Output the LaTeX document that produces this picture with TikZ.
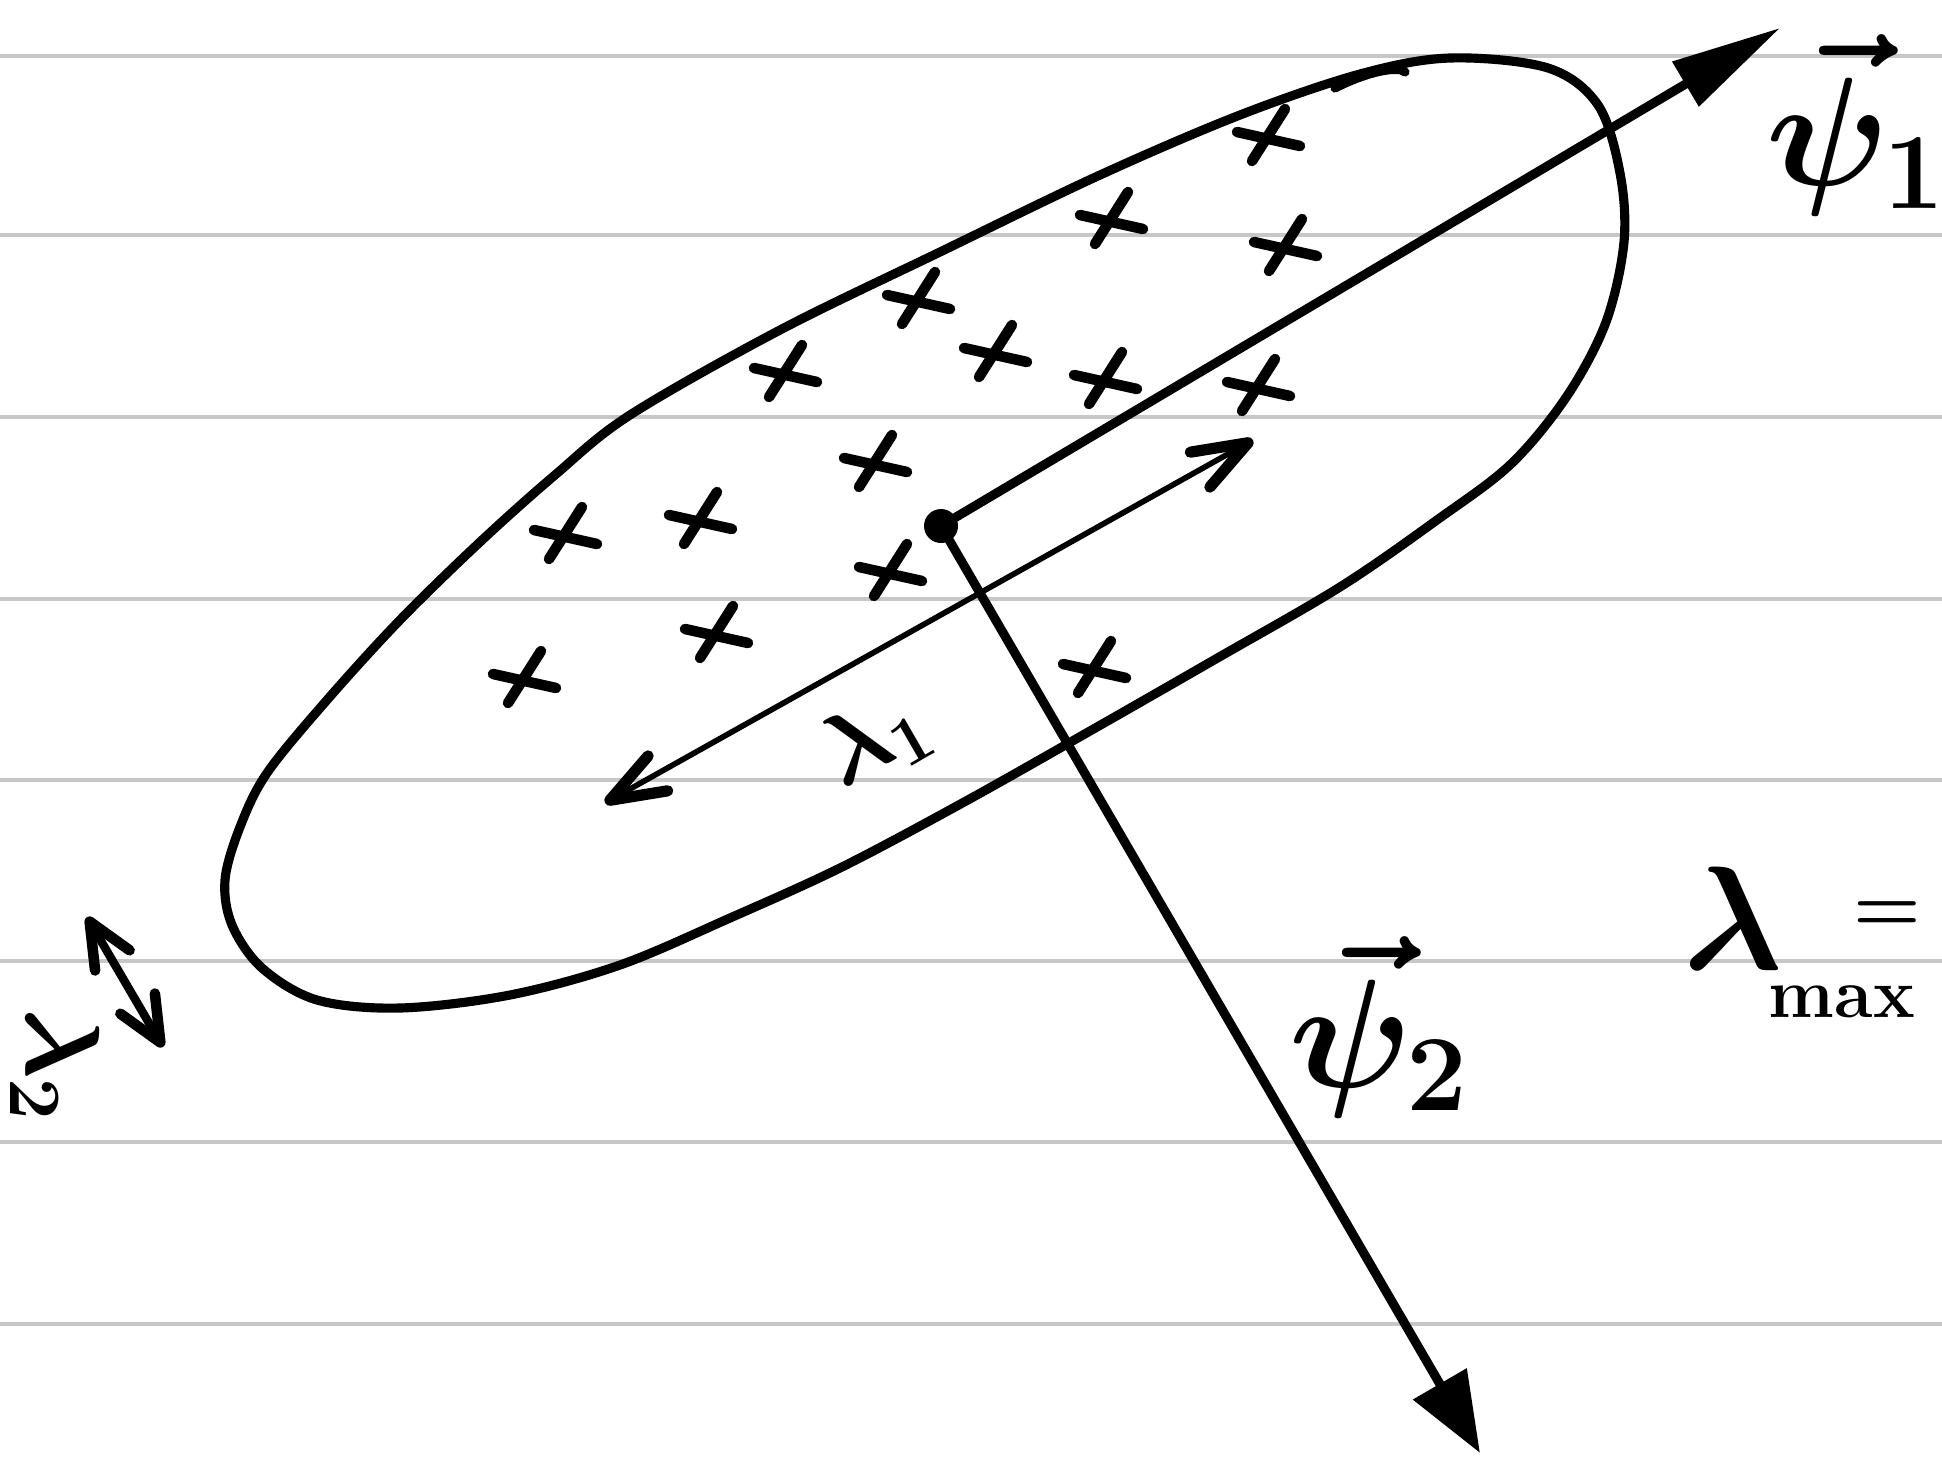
\RequirePackage{fix-cm}
\documentclass[tikz,border=0pt]{standalone}
\usetikzlibrary{arrows.meta}
\begin{document}
\begin{tikzpicture}[
  paper/.style={black!22, line width=1.3pt},
  ink/.style={black, line width=2.6pt, line cap=round, line join=round},
  axisline/.style={black, line width=2.6pt, line cap=round},
  thinink/.style={black, line width=1.6pt, line cap=round},
  crossline/.style={black, line width=3pt, line cap=round},
  xmark/.pic={\draw[crossline] (-0.33,0.05) -- (0.30,-0.09); \draw[crossline] (0.15,0.28) -- (-0.18,-0.24);},
  lbl/.style={inner sep=0pt}
]
\fill[white] (0,0) rectangle (19.42,-14.69);
\useasboundingbox (0,0) rectangle (19.42,-14.69);
% ruled paper
\foreach \y in {0.56,2.35,4.17,5.99,7.80,9.61,11.42,13.24}
  \draw[paper] (0,-\y) -- (19.42,-\y);
% hand-drawn ellipse
\draw[ink] plot[smooth cycle, tension=0.55] coordinates {
 (2.25,-8.80) (2.40,-8.27) (2.67,-7.73) (3.27,-7.00) (4.00,-6.20) (4.80,-5.42)
 (5.55,-4.75) (6.30,-4.15) (7.80,-3.30) (9.40,-2.52) (11.00,-1.75)
 (12.40,-1.15) (13.60,-0.74) (14.50,-0.58) (15.48,-0.68) (15.98,-1.05) (16.20,-1.73)
 (16.24,-2.42) (16.06,-3.22) (15.67,-3.96) (15.11,-4.64) (14.37,-5.20) (13.40,-5.87)
 (12.14,-6.60) (10.90,-7.31) (9.66,-8.01) (8.42,-8.67) (7.30,-9.18) (6.20,-9.65)
 (5.10,-9.95) (4.00,-10.08) (3.17,-10.00) (2.62,-9.68) (2.32,-9.25)};
\draw[ink] (13.35,-0.88) .. controls (13.70,-0.70) and (14.00,-0.66) .. (14.05,-0.72);
% data points
\foreach \p in {(12.70,-1.37),(11.13,-2.20),(12.87,-2.47),(9.20,-3.00),(7.87,-3.73),
  (9.97,-3.53),(11.07,-3.80),(12.60,-3.87),(8.77,-4.63),(7.02,-5.20),(5.67,-5.35),
  (8.92,-5.72),(7.18,-6.34),(5.26,-6.79),(10.96,-6.69)}
  \pic at \p {xmark};
% centre and eigenvector axes
\coordinate (c) at (9.41,-5.26);
\coordinate (p1) at (17.80,-0.28);
\coordinate (p2) at (14.80,-14.53);
\draw[axisline, -{Triangle[length=11mm,width=5mm]}] (c) -- (p1);
\draw[axisline, -{Triangle[length=8mm,width=6mm]}] (c) -- (p2);
\fill (c) circle (0.17);
% lambda_1 extent
\coordinate (l1a) at (6.05,-8.03);
\coordinate (l1b) at (12.53,-4.40);
\draw[thinink, {Straight Barb[length=5.5mm,width=4mm,line width=3.2pt,round]}-{Straight Barb[length=5.5mm,width=4mm,line width=3.2pt,round]}] (l1a) -- (l1b);
% lambda_2 extent
\coordinate (l2a) at (0.87,-9.17);
\coordinate (l2b) at (1.63,-10.47);
\draw[thinink, line width=2.4pt, {Straight Barb[length=4.5mm,width=4mm,line width=3pt,round]}-{Straight Barb[length=4.5mm,width=4mm,line width=3pt,round]}] (l2a) -- (l2b);
% labels
\node[lbl, font=\fontsize{44}{52}\selectfont\boldmath] (psi1) at (18.56,-1.25) {$\vec{\psi}_1$};
\node[lbl, font=\fontsize{44}{52}\selectfont\boldmath] (psi2) at (13.79,-10.27) {$\vec{\psi}_2$};
\node[lbl, font=\fontsize{42}{50}\selectfont\boldmath] (lam) at (17.33,-9.18) {$\lambda$};
\node[lbl, font=\fontsize{20}{24}\selectfont\bfseries] (max) at (18.42,-10.02) {max};
\node[lbl, font=\fontsize{22}{26}\selectfont\boldmath] (eq) at (18.87,-9.17) {$=$};
\node[lbl, font=\fontsize{28}{34}\selectfont\boldmath, rotate=30] (lab1) at (8.75,-7.40) {$\lambda_1$};
\node[lbl, font=\fontsize{30}{36}\selectfont\boldmath, rotate=-90] (lab2) at (0.55,-10.65) {$\lambda_2$};
\end{tikzpicture}
\end{document}
